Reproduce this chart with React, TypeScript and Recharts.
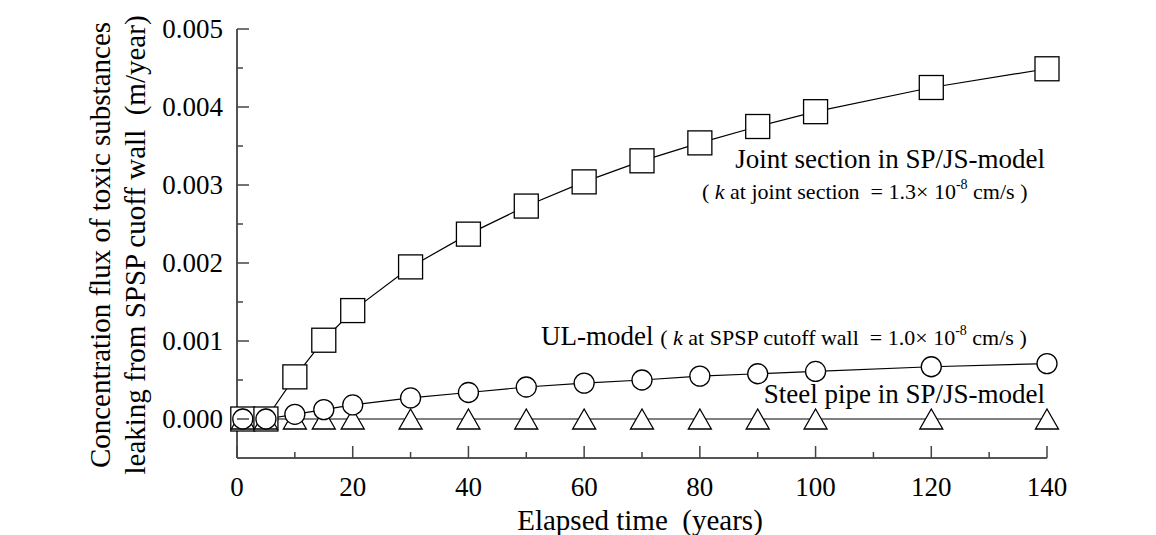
import { Customized, Line, LineChart, XAxis, YAxis } from "recharts";

const years = [1, 5, 10, 15, 20, 30, 40, 50, 60, 70, 80, 90, 100, 120, 140];
const jointSection = [
  0, 0, 0.00054, 0.00101, 0.00139, 0.00195, 0.00237, 0.00273, 0.00304, 0.00331,
  0.00354, 0.00375, 0.00394, 0.00425, 0.00449,
];
const ulModel = [
  0, 0, 0.00006, 0.00012, 0.00018, 0.00027, 0.00034, 0.00041, 0.00046, 0.0005,
  0.00055, 0.00058, 0.00061, 0.00067, 0.00071,
];
const steelPipe = [0, 0, 0, 0, 0, 0, 0, 0, 0, 0, 0, 0, 0, 0, 0];

const xTicks = [0, 10, 20, 30, 40, 50, 60, 70, 80, 90, 100, 110, 120, 130, 140];
const yTicks = [
  0, 0.0005, 0.001, 0.0015, 0.002, 0.0025, 0.003, 0.0035, 0.004, 0.0045, 0.005,
];

const data = years.map((t, i) => ({
  t,
  joint: jointSection[i],
  ul: ulModel[i],
  steel: steelPipe[i],
}));

const FONT = '"Liberation Serif", "Times New Roman", serif';

function XTick(props: any) {
  const { x, y, payload } = props;
  const major = payload.value % 20 === 0;
  return (
    <g>
      <line x1={x} y1={y} x2={x} y2={y - (major ? 12 : 6)} stroke="#444" strokeWidth={1.5} />
      {major && (
        <text x={x} y={y + 38} textAnchor="middle" fontSize={27} fontFamily={FONT} fill="#000">
          {payload.value}
        </text>
      )}
    </g>
  );
}

function YTick(props: any) {
  const { x, y, payload } = props;
  const major = Math.round(payload.value * 10000) % 10 === 0;
  return (
    <g>
      <line x1={x} y1={y} x2={x + (major ? 12 : 6)} y2={y} stroke="#444" strokeWidth={1.5} />
      {major && (
        <text x={x - 14} y={y + 9} textAnchor="end" fontSize={27} fontFamily={FONT} fill="#000">
          {payload.value.toFixed(3)}
        </text>
      )}
    </g>
  );
}

function Square(props: any) {
  const { cx, cy, index } = props;
  return <rect key={index} x={cx - 12} y={cy - 12} width={24} height={24} fill="#fff" stroke="#000" strokeWidth={1.3} />;
}

function Circle(props: any) {
  const { cx, cy, index } = props;
  return <circle key={index} cx={cx} cy={cy} r={10} fill="#fff" stroke="#000" strokeWidth={1.3} />;
}

function Triangle(props: any) {
  const { cx, cy, index } = props;
  return (
    <path
      key={index}
      d={`M${cx},${cy - 10} L${cx + 11.5},${cy + 10} L${cx - 11.5},${cy + 10} Z`}
      fill="#fff"
      stroke="#000"
      strokeWidth={1.3}
    />
  );
}

function Annotations() {
  const pre = { whiteSpace: "pre" as const };
  return (
    <g fontFamily={FONT} fill="#000">
      <text x={1045} y={168} fontSize={27} textAnchor="end">
        Joint section in SP/JS-model
      </text>
      <text x={702} y={199} fontSize={22} style={pre}>
        {"( "}
        <tspan fontStyle="italic">k</tspan>
        {" at joint section  = 1.3× 10"}
        <tspan fontSize={14} dy={-10}>-8</tspan>
        <tspan dy={10}>{" cm/s )"}</tspan>
      </text>
      <text x={541} y={345} fontSize={27} style={pre}>
        {"UL-model "}
        <tspan fontSize={22}>{"( "}</tspan>
        <tspan fontSize={22} fontStyle="italic">k</tspan>
        <tspan fontSize={22}>{" at SPSP cutoff wall  = 1.0× 10"}</tspan>
        <tspan fontSize={14} dy={-10}>-8</tspan>
        <tspan fontSize={22} dy={10}>{" cm/s )"}</tspan>
      </text>
      <text x={1045} y={403} fontSize={27} textAnchor="end">
        Steel pipe in SP/JS-model
      </text>
      <text x={640} y={530} fontSize={29} textAnchor="middle" style={pre}>
        {"Elapsed time  (years)"}
      </text>
      <text transform="translate(110,245) rotate(-90)" fontSize={29} textAnchor="middle">
        Concentration flux of toxic substances
      </text>
      <text transform="translate(145,245) rotate(-90)" fontSize={29} textAnchor="middle" style={pre}>
        {"leaking from SPSP cuoff wall  (m/year)"}
      </text>
    </g>
  );
}

export default function App() {
  return (
    <div style={{ position: "absolute", left: 0, top: 0 }}>
      <LineChart
        width={1156}
        height={535}
        data={data}
        margin={{ top: 29, right: 109, bottom: 0, left: 0 }}
      >
        <XAxis
          dataKey="t"
          type="number"
          domain={[0, 140]}
          ticks={xTicks}
          interval={0}
          height={77}
          tickSize={0}
          tickMargin={0}
          tickLine={false}
          tick={<XTick />}
          axisLine={{ stroke: "#555", strokeWidth: 2 }}
        />
        <YAxis
          type="number"
          domain={[-0.0005, 0.005]}
          ticks={yTicks}
          interval={0}
          width={237}
          tickSize={0}
          tickMargin={0}
          tickLine={false}
          tick={<YTick />}
          axisLine={{ stroke: "#555", strokeWidth: 2 }}
        />
        <Line
          dataKey="joint"
          type="linear"
          stroke="#000"
          strokeWidth={1.2}
          dot={Square}
          activeDot={false}
          isAnimationActive={false}
        />
        <Line
          dataKey="steel"
          type="linear"
          stroke="#000"
          strokeWidth={1.2}
          dot={Triangle}
          activeDot={false}
          isAnimationActive={false}
        />
        <Line
          dataKey="ul"
          type="linear"
          stroke="#000"
          strokeWidth={1.2}
          dot={Circle}
          activeDot={false}
          isAnimationActive={false}
        />
        <Customized component={Annotations} />
      </LineChart>
    </div>
  );
}
